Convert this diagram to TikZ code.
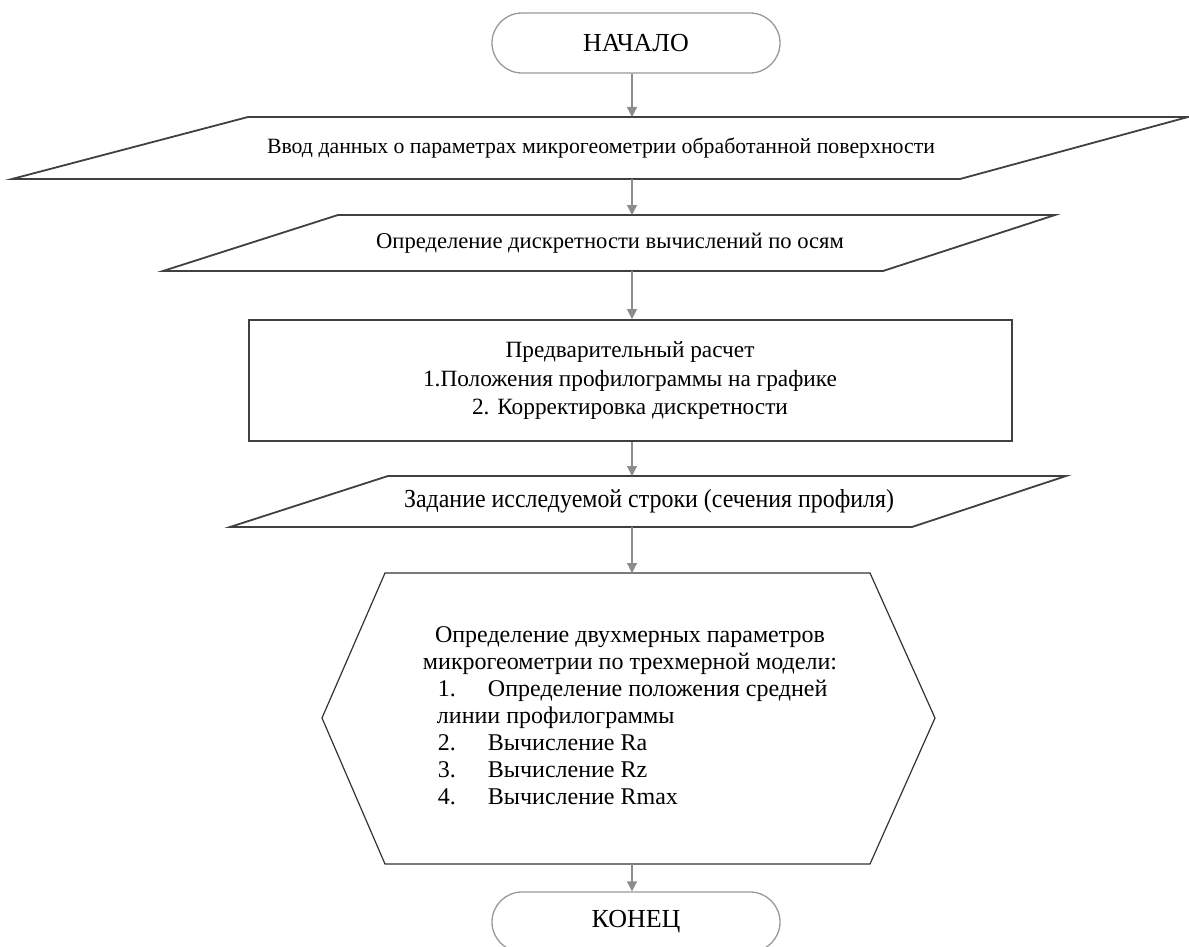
\documentclass[tikz,border=0pt]{standalone}
\usepackage{fontspec}
\setmainfont{Liberation Serif}
\usetikzlibrary{arrows.meta,shapes.misc}
\tikzset{
  term/.style={rounded rectangle, draw=black!40, line width=1.3pt, minimum width=288pt, minimum height=60pt, inner sep=0pt, font=\fontsize{26}{30}\selectfont},
  shapeline/.style={draw=black!75, line width=1.8pt, line join=miter},
  hexline/.style={draw=black!80, line width=1.2pt},
  txt/.style={inner sep=0pt},
  flow/.style={draw=black!45, line width=1.3pt, -{Triangle[width=10pt,length=10pt]}},
}
\begin{document}
\begin{tikzpicture}[x=1pt,y=-1pt]
\useasboundingbox (0,0) rectangle (1189,947);
\begin{scope}
\clip (0,0) rectangle (1189,947);
% start
\node[term] (start) at (636,43) {НАЧАЛО};
% input 1
\draw[shapeline] (248,117) -- (1188,117) -- (960,179) -- (12,179) -- cycle;
\coordinate (in1t) at (632,117);
\coordinate (in1b) at (632,179);
\node[txt, font=\fontsize{21.8}{26}\selectfont] (in1) at (601,148) {Ввод данных о параметрах микрогеометрии обработанной поверхности};
% input 2
\draw[shapeline] (338,215) -- (1055,215) -- (883,271) -- (163,271) -- cycle;
\coordinate (in2t) at (632,215);
\coordinate (in2b) at (632,271);
\node[txt, font=\fontsize{22.6}{26}\selectfont] (in2) at (610,243) {Определение дискретности вычислений по осям};
% process
\node[shapeline, minimum width=763pt, minimum height=121pt, inner sep=0pt] (proc) at (630.5,380.5) {};
\node[txt, align=center, font=\fontsize{23.3}{28.5}\selectfont] (proct) at (630,381) {Предварительный расчет\\1.Положения профилограммы на графике\\2. Корректировка дискретности};
% input 3
\draw[shapeline] (388,476) -- (1066,476) -- (912,527) -- (230,527) -- cycle;
\coordinate (in3t) at (632,476);
\coordinate (in3b) at (632,527);
\node[txt, font=\fontsize{26}{30}\selectfont] (in3) at (649,501) {\scalebox{0.92}[1]{Задание исследуемой строки (сечения профиля)}};
% hexagon
\draw[hexline] (385,573) -- (870,573) -- (935,718) -- (870,864) -- (385,864) -- (322,718) -- cycle;
\coordinate (hext) at (632,573);
\coordinate (hexb) at (632,864);
\node[txt, font=\fontsize{24}{27}\selectfont] (hex) at (630,718) {\begin{tabular}{@{}l@{}}
\multicolumn{1}{@{}c@{}}{Определение двухмерных параметров}\\
\multicolumn{1}{@{}c@{}}{микрогеометрии по трехмерной модели:}\\
\hspace{15pt}\makebox[50pt][l]{1.}Определение положения средней\\
\hspace{14pt}линии профилограммы\\
\hspace{15pt}\makebox[50pt][l]{2.}Вычисление Ra\\
\hspace{15pt}\makebox[50pt][l]{3.}Вычисление Rz\\
\hspace{15pt}\makebox[50pt][l]{4.}Вычисление Rmax
\end{tabular}};
% end
\node[term] (end) at (636,922) {КОНЕЦ};
\end{scope}
% connectors
\draw[flow] (start.south -| in1t) -- (in1t);
\draw[flow] (in1b) -- (in2t);
\draw[flow] (in2b) -- (proc.north -| in2b);
\draw[flow] (proc.south -| in3t) -- (in3t);
\draw[flow] (in3b) -- (hext);
\draw[flow] (hexb) -- (end.north -| hexb);
\end{tikzpicture}
\end{document}
